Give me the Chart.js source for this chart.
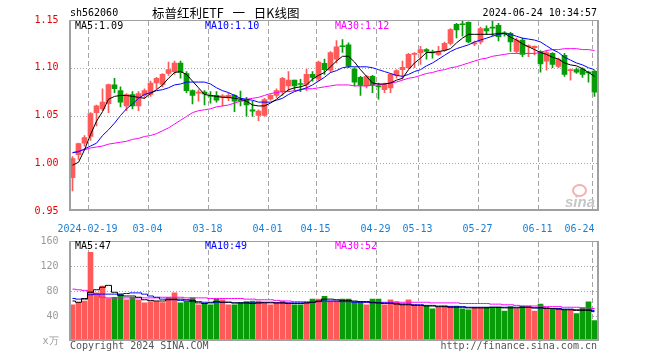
<!DOCTYPE html>
<html>
<head>
<meta charset="utf-8">
<script src="https://cdn.jsdelivr.net/npm/chart.js@4.4.1/dist/chart.umd.min.js"></script>
<style>
  html, body { margin: 0; padding: 0; background: #fff; }
  #wrap { position: relative; width: 660px; height: 360px; overflow: hidden;
          font-family: 'DejaVu Sans Mono', monospace; font-size: 10px; line-height: 10px; }
  canvas { position: absolute; left: 0; }
  .grid { pointer-events: none; }
  .t { position: absolute; white-space: pre; }
</style>
</head>
<body>
<div id="wrap">
  <canvas id="kChart" width="660" height="232" style="top:0"></canvas>
  <canvas id="volChart" width="660" height="128" style="top:232px"></canvas>
  <canvas id="kGrid" class="grid" width="660" height="232" style="top:0"></canvas>
  <canvas id="volGrid" class="grid" width="660" height="128" style="top:232px"></canvas>

  <div class="t" style="left:70px;top:8px;color:#000">sh562060</div>
  <div class="t" style="left:152px;top:6px;font-family:'Noto Sans CJK SC';font-size:12.5px;line-height:13px;word-spacing:6px;color:#000">标普红利ETF 一 日K线图</div>
  <div class="t" style="right:63px;top:8px;color:#000">2024-06-24 10:34:57</div>

  <div class="t" id="lg5" style="left:75px;top:21px;color:#000"></div>
  <div class="t" id="lg10" style="left:205px;top:21px;color:#0000ff"></div>
  <div class="t" id="lg30" style="left:335px;top:21px;color:#ff00ff"></div>

  <div class="t" id="vlg5" style="left:75px;top:241px;color:#000"></div>
  <div class="t" id="vlg10" style="left:205px;top:241px;color:#0000ff"></div>
  <div class="t" id="vlg30" style="left:335px;top:241px;color:#ff00ff"></div>

  <div style="position:absolute;left:572px;top:184px;width:11px;height:9px;border:2px solid #f4b0b0;border-radius:50%"></div>
  <div class="t" style="left:565px;top:194px;font:italic bold 15px 'Liberation Sans';line-height:15px;color:#c6c6c6">sina</div>

  <div class="t" style="left:70px;top:341px;color:#555">Copyright 2024 SINA.COM</div>
  <div class="t" style="right:63px;top:341px;color:#555">http://finance.sina.com.cn</div>
</div>

<script>
const dates = [
  '2024-02-06','2024-02-07','2024-02-08','2024-02-19','2024-02-20','2024-02-21','2024-02-22','2024-02-23','2024-02-26','2024-02-27','2024-02-28','2024-02-29',
  '2024-03-01','2024-03-04','2024-03-05','2024-03-06','2024-03-07','2024-03-08','2024-03-11','2024-03-12','2024-03-13','2024-03-14','2024-03-15',
  '2024-03-18','2024-03-19','2024-03-20','2024-03-21','2024-03-22','2024-03-25','2024-03-26','2024-03-27','2024-03-28','2024-03-29',
  '2024-04-01','2024-04-02','2024-04-03','2024-04-08','2024-04-09','2024-04-10','2024-04-11','2024-04-12','2024-04-15','2024-04-16','2024-04-17',
  '2024-04-18','2024-04-19','2024-04-22','2024-04-23','2024-04-24','2024-04-25','2024-04-26','2024-04-29','2024-04-30',
  '2024-05-06','2024-05-07','2024-05-08','2024-05-09','2024-05-10','2024-05-13','2024-05-14','2024-05-15','2024-05-16','2024-05-17',
  '2024-05-20','2024-05-21','2024-05-22','2024-05-23','2024-05-24','2024-05-27','2024-05-28','2024-05-29','2024-05-30','2024-05-31',
  '2024-06-03','2024-06-04','2024-06-05','2024-06-06','2024-06-07','2024-06-11','2024-06-12','2024-06-13','2024-06-14',
  '2024-06-17','2024-06-18','2024-06-19','2024-06-20','2024-06-21','2024-06-24'
];
const tickDates = ['2024-02-19','2024-03-04','2024-03-18','2024-04-01','2024-04-15',
  '2024-04-29','2024-05-13','2024-05-27','2024-06-11','2024-06-24'];

const opens = [
  0.985, 1.009, 1.021, 1.028, 1.053, 1.057, 1.0625, 1.082, 1.076, 1.060,
  1.072, 1.060, 1.071, 1.072, 1.084, 1.0825, 1.094, 1.096, 1.105, 1.094,
  1.076, 1.0735, 1.0745, 1.071, 1.071, 1.0695, 1.0685, 1.071, 1.0655, 1.067,
  1.056, 1.050, 1.050, 1.067, 1.071, 1.075, 1.081, 1.087, 1.083, 1.0825,
  1.093, 1.088, 1.1045, 1.0975, 1.109, 1.1225, 1.124, 1.099, 1.090, 1.081,
  1.091, 1.081, 1.077, 1.079, 1.092, 1.098, 1.100, 1.114, 1.1155, 1.119,
  1.116, 1.114, 1.1185, 1.1255, 1.1455, 1.1455, 1.1475, 1.125, 1.127, 1.141,
  1.142, 1.1445, 1.136, 1.136, 1.117, 1.129, 1.122, 1.121, 1.117, 1.107,
  1.115, 1.1015, 1.113, 1.097, 1.098, 1.099, 1.095, 1.0965
];
const highs = [
  1.007, 1.021, 1.029, 1.053, 1.061, 1.078, 1.083, 1.089, 1.080, 1.073,
  1.075, 1.075, 1.078, 1.086, 1.090, 1.094, 1.106, 1.107, 1.107, 1.096,
  1.077, 1.077, 1.076, 1.075, 1.075, 1.072, 1.0735, 1.072, 1.0755, 1.069,
  1.065, 1.056, 1.068, 1.072, 1.078, 1.090, 1.096, 1.087, 1.088, 1.099,
  1.096, 1.107, 1.109, 1.117, 1.1285, 1.1296, 1.126, 1.100, 1.091, 1.092,
  1.092, 1.084, 1.084, 1.094, 1.098, 1.107, 1.115, 1.116, 1.1225, 1.120,
  1.1185, 1.1225, 1.127, 1.141, 1.1465, 1.1487, 1.148, 1.128, 1.1425, 1.144,
  1.1487, 1.1465, 1.138, 1.137, 1.131, 1.131, 1.124, 1.123, 1.118, 1.118,
  1.116, 1.110, 1.115, 1.099, 1.100, 1.100, 1.0965, 1.097
];
const lows = [
  0.971, 1.004, 1.018, 1.024, 1.039, 1.055, 1.053, 1.074, 1.059, 1.055,
  1.057, 1.055, 1.068, 1.070, 1.078, 1.080, 1.092, 1.093, 1.089, 1.074,
  1.062, 1.065, 1.061, 1.063, 1.064, 1.060, 1.0655, 1.054, 1.060, 1.049,
  1.049, 1.0447, 1.049, 1.066, 1.069, 1.071, 1.075, 1.076, 1.075, 1.076,
  1.086, 1.086, 1.093, 1.095, 1.105, 1.116, 1.100, 1.081, 1.071, 1.079,
  1.074, 1.067, 1.074, 1.074, 1.089, 1.088, 1.099, 1.100, 1.1035, 1.109,
  1.110, 1.113, 1.117, 1.124, 1.1313, 1.133, 1.126, 1.123, 1.125, 1.135,
  1.1337, 1.128, 1.133, 1.117, 1.1155, 1.1115, 1.1115, 1.1135, 1.0955, 1.0975,
  1.100, 1.100, 1.091, 1.087, 1.094, 1.090, 1.085, 1.070
];
const closes = [
  1.005, 1.0205, 1.027, 1.052, 1.060, 1.064, 1.0824, 1.078, 1.064, 1.072,
  1.060, 1.073, 1.076, 1.084, 1.089, 1.093, 1.098, 1.105, 1.095, 1.076,
  1.071, 1.074, 1.0725, 1.070, 1.066, 1.0705, 1.071, 1.065, 1.065, 1.061,
  1.0545, 1.0545, 1.0667, 1.071, 1.076, 1.089, 1.087, 1.081, 1.0825, 1.093,
  1.090, 1.106, 1.098, 1.116, 1.122, 1.122, 1.1016, 1.085, 1.0815, 1.091,
  1.0815, 1.080, 1.0825, 1.093, 1.097, 1.1005, 1.114, 1.115, 1.119, 1.117,
  1.1155, 1.117, 1.1255, 1.140, 1.1395, 1.145, 1.127, 1.1255, 1.141, 1.1385,
  1.1415, 1.1325, 1.1355, 1.127, 1.129, 1.114, 1.1225, 1.1225, 1.104, 1.116,
  1.1035, 1.1085, 1.093, 1.0975, 1.0955, 1.093, 1.0945, 1.0745
];

// moving averages as printed on the chart
const ma5 = [
  0.998, 1.001, 1.014, 1.030, 1.044, 1.054, 1.067, 1.070, 1.071, 1.071,
  1.070, 1.069, 1.068, 1.073, 1.077, 1.082, 1.089, 1.095, 1.096, 1.093,
  1.086, 1.079, 1.072, 1.071, 1.070, 1.069, 1.069, 1.068, 1.067, 1.065,
  1.061, 1.060, 1.060, 1.063, 1.067, 1.072, 1.077, 1.079, 1.080, 1.082,
  1.088, 1.092, 1.095, 1.101, 1.107, 1.112, 1.112, 1.106, 1.098, 1.091,
  1.084, 1.083, 1.083, 1.084, 1.087, 1.089, 1.098, 1.105, 1.110, 1.116,
  1.116, 1.117, 1.118, 1.120, 1.126, 1.131, 1.135, 1.135, 1.135, 1.135,
  1.135, 1.136, 1.136, 1.132, 1.129, 1.125, 1.122, 1.119, 1.116, 1.114,
  1.111, 1.109, 1.105, 1.103, 1.102, 1.099, 1.095, 1.091
];
const ma10 = [
  1.011, 1.012, 1.015, 1.018, 1.021, 1.029, 1.035, 1.042, 1.050, 1.057,
  1.062, 1.068, 1.072, 1.074, 1.076, 1.077, 1.079, 1.082, 1.083, 1.085,
  1.085, 1.085, 1.085, 1.083, 1.079, 1.076, 1.074, 1.071, 1.068, 1.067,
  1.066, 1.064, 1.064, 1.064, 1.066, 1.068, 1.072, 1.075, 1.077, 1.079,
  1.082, 1.086, 1.090, 1.095, 1.097, 1.100, 1.101, 1.101, 1.101, 1.101,
  1.100, 1.098, 1.096, 1.094, 1.092, 1.091, 1.093, 1.096, 1.098, 1.102,
  1.105, 1.109, 1.113, 1.117, 1.120, 1.122, 1.124, 1.127, 1.129, 1.131,
  1.133, 1.135, 1.136, 1.135, 1.133, 1.131, 1.130, 1.129, 1.127, 1.123,
  1.119, 1.116, 1.111, 1.108, 1.105, 1.103, 1.100, 1.098
];
const ma30 = [
  1.011, 1.013, 1.014, 1.016, 1.017, 1.018, 1.020, 1.021, 1.022, 1.023,
  1.025, 1.026, 1.028, 1.029, 1.031, 1.034, 1.037, 1.041, 1.045, 1.049,
  1.053, 1.055, 1.056, 1.057, 1.059, 1.060, 1.061, 1.063, 1.065, 1.067,
  1.068, 1.069, 1.071, 1.073, 1.074, 1.075, 1.075, 1.076, 1.077, 1.078,
  1.078, 1.079, 1.080, 1.081, 1.082, 1.082, 1.082, 1.081, 1.081, 1.081,
  1.082, 1.082, 1.083, 1.084, 1.085, 1.087, 1.089, 1.090, 1.092, 1.094,
  1.095, 1.097, 1.098, 1.100, 1.101, 1.103, 1.105, 1.107, 1.109, 1.110,
  1.112, 1.113, 1.114, 1.115, 1.115, 1.115, 1.115, 1.115, 1.116, 1.118,
  1.119, 1.119, 1.120, 1.120, 1.120, 1.119, 1.119, 1.118
];

// volume, in 万
const vols = [
  58, 62, 64, 142, 77, 88, 68, 70, 75, 66,
  70, 66, 61, 63, 63, 61.5, 70, 77, 61, 63,
  69, 58, 60, 58, 67, 66, 58, 58, 61, 63,
  64, 64, 61, 58, 61, 64, 61, 58, 58, 61,
  67, 67, 71.5, 64, 64, 67, 67, 62, 62, 58,
  67, 67, 58, 66, 63, 60, 66, 58, 56, 56,
  51.5, 53.7, 56, 56, 56, 51.5, 50, 53.7, 53.7, 53.7,
  53.7, 53.7, 48, 55, 52, 56, 56, 48, 59, 51.5,
  51.5, 51.5, 50, 50, 43.7, 53, 62.6, 32.6
];
const vma5 = [
  64, 62, 68, 78, 82, 86, 89, 78, 73, 72,
  72, 70, 66, 65, 64, 64, 66, 67, 67, 66,
  65, 61, 60, 61, 63, 62, 62, 61, 61, 61,
  60, 61, 62, 62, 61, 61, 60, 60, 60, 61,
  62, 64, 67, 67, 66, 65, 65, 64, 63, 63,
  62, 61, 60, 60, 59, 58, 58, 57, 57, 56,
  56, 55, 55, 54, 54, 54, 53, 53, 53, 53,
  54, 54, 53, 53, 53, 54, 54, 53, 53, 52,
  52, 51, 50, 50, 49, 49, 49, 47
];
const vma10 = [
  68, 67, 67, 74, 75, 75, 75, 75, 75, 76,
  77, 77, 75, 72, 70, 67, 67, 66, 65, 64,
  63, 63, 62, 62, 62, 62, 62, 61, 61, 61,
  61, 61, 61, 61, 61, 61, 61, 61, 61, 61,
  62, 63, 64, 64, 64, 63, 63, 62, 62, 62,
  61, 61, 61, 61, 60, 59, 59, 58, 58, 57,
  57, 56, 56, 55, 55, 55, 54, 54, 54, 54,
  54, 54, 54, 54, 54, 54, 54, 53, 53, 53,
  52, 52, 51, 51, 50, 50, 50, 49
];
const vma30 = [
  83, 82, 81, 79, 75, 70, 69, 69, 69, 69,
  69, 69, 69, 69, 69, 70, 70, 70, 70, 69,
  69, 69, 69, 68, 68, 68, 68, 68, 68, 67,
  67, 66, 66, 66, 65, 64, 64, 63, 63, 63,
  63, 63, 63, 63, 63, 63, 63, 63, 63, 62,
  62, 62, 62, 62, 62, 62, 62, 62, 62, 62,
  61, 61, 61, 61, 61, 60, 60, 60, 60, 60,
  59, 59, 58, 58, 57, 56, 56, 56, 56, 55,
  55, 55, 54, 54, 54, 53, 53, 52
];

const RED = '#ff5a5a';
const GREEN = '#089c08';
const GRID = '#a6a6a6';
const MONO = 'DejaVu Sans Mono';

const last = (arr) => arr[arr.length - 1];
document.getElementById('lg5').textContent = 'MA5:' + last(ma5).toFixed(2);
document.getElementById('lg10').textContent = 'MA10:' + last(ma10).toFixed(2);
document.getElementById('lg30').textContent = 'MA30:' + last(ma30).toFixed(2);
document.getElementById('vlg5').textContent = 'MA5:' + Math.round(last(vma5));
document.getElementById('vlg10').textContent = 'MA10:' + Math.round(last(vma10));
document.getElementById('vlg30').textContent = 'MA30:' + Math.round(last(vma30));

const tickSet = new Set(tickDates.map((d) => dates.indexOf(d)));
const colors = closes.map((c, i) => (c >= opens[i] ? RED : GREEN));

const tickLabel = (i) => {
    const d = dates[i];
    if (!tickSet.has(i)) return '';
    if (d === tickDates[0]) return d;
    if (d === last(tickDates)) return d.slice(5) + '    ';
    return d.slice(5);
};

// gray frame round the plot
const framePlugin = {
    id: 'frame',
    afterDraw(chart) {
        const { ctx, chartArea: a } = chart;
        const l = Math.round(a.left), r = Math.round(a.right);
        const t = Math.round(a.top), b = Math.round(a.bottom);
        ctx.save();
        ctx.fillStyle = '#a0a0a0';
        ctx.fillRect(l - 1, t, 2, b - t);
        ctx.fillRect(r - 1, t, 2, b - t);
        ctx.fillRect(l - 1, t, r - l + 1, 1);
        ctx.fillRect(l - 1, b - 2, r - l + 1, 2);
        ctx.restore();
    },
};

// dotted value lines and dashed date lines on a layer above the chart,
// only where the chart below is still empty, so they look as if under the bars
const drawGrid = (chart, layerId) => {
    try {
        const g = document.getElementById(layerId).getContext('2d');
        const W = chart.canvas.width, H = chart.canvas.height;
        const px = chart.ctx.getImageData(0, 0, W, H).data;
        const free = (x, y) => {
            const k = (y * W + x) * 4;
            return px[k + 3] < 40 || (px[k] > 240 && px[k + 1] > 240 && px[k + 2] > 240);
        };
        const a = chart.chartArea;
        const l = Math.round(a.left), r = Math.round(a.right);
        const t = Math.round(a.top), b = Math.round(a.bottom);
        const xs = chart.scales.x, ys = chart.scales.y;
        g.fillStyle = GRID;
        ys.ticks.forEach((tk) => {
            const py = Math.round(ys.getPixelForValue(tk.value));
            if (py < t + 2 || py > b - 3) return;
            for (let x = l + 1; x < r - 1; x += 3) if (free(x, py)) g.fillRect(x, py, 1, 1);
        });
        const step = xs.getPixelForValue(1) - xs.getPixelForValue(0);
        tickSet.forEach((i) => {
            const x = Math.round(xs.getPixelForValue(i) - step / 2);
            for (let y = t + 1; y < b - 2; y++) {
                if ((y - t - 1) % 8 < 5 && free(x, y)) g.fillRect(x, y, 1, 1);
            }
        });
    } catch (e) {
        // leave the chart without grid rather than break it
    }
};

const lineSet = (data, color, order, stepped) => ({
    type: 'line',
    data: data,
    borderColor: color,
    borderWidth: 1,
    pointRadius: 0,
    tension: 0,
    fill: false,
    stepped: stepped || false,
    order: order,
});

Chart.defaults.font.family = MONO;
Chart.defaults.font.size = 10;

const kChart = new Chart(document.getElementById('kChart'), {
    type: 'bar',
    data: {
        labels: dates,
        datasets: [
            lineSet(ma5, '#000000', 0),
            lineSet(ma10, '#0000ff', 1),
            lineSet(ma30, '#ff00ff', 2),
            {
                data: dates.map((d, i) => [Math.min(opens[i], closes[i]), Math.max(opens[i], closes[i])]),
                backgroundColor: colors,
                barThickness: 5,
                minBarLength: 1,
                grouped: false,
                order: 3,
            },
            {
                data: dates.map((d, i) => [lows[i], highs[i]]),
                backgroundColor: colors,
                barThickness: 1,
                grouped: false,
                order: 4,
            },
        ],
    },
    options: {
        responsive: false,
        animation: false,
        layout: { padding: { top: 20, right: 62.5, left: 0, bottom: 0 } },
        plugins: { legend: { display: false }, tooltip: { enabled: false } },
        scales: {
            x: {
                offset: true,
                grid: { display: false },
                border: { display: false },
                ticks: {
                    autoSkip: false, maxRotation: 0, minRotation: 0,
                    padding: 4, labelOffset: -3, color: '#1a7fd4',
                    callback: (v, i) => tickLabel(i),
                },
                afterFit: (s) => { s.height = 21; },
            },
            y: {
                min: 0.95, max: 1.15,
                grid: { display: false },
                border: { display: false },
                ticks: { stepSize: 0.05, padding: 3, color: '#e60000', callback: (v) => v.toFixed(2) },
                afterFit: (s) => { s.width = 69.5; },
            },
        },
    },
    plugins: [framePlugin],
});

const volChart = new Chart(document.getElementById('volChart'), {
    type: 'bar',
    data: {
        labels: dates,
        datasets: [
            lineSet(vma5, '#000000', 0, 'middle'),
            lineSet(vma10, '#0000ff', 1, 'middle'),
            lineSet(vma30, '#ff00ff', 2, 'middle'),
            { data: vols, backgroundColor: colors, barThickness: 5, order: 3 },
        ],
    },
    options: {
        responsive: false,
        animation: false,
        layout: { padding: { top: 8, right: 62.5, left: 0, bottom: 19 } },
        plugins: { legend: { display: false }, tooltip: { enabled: false } },
        scales: {
            x: {
                offset: true,
                grid: { display: false },
                border: { display: false },
                ticks: { display: false, autoSkip: false },
                afterFit: (s) => { s.height = 0; },
            },
            y: {
                min: 0, max: 160,
                grid: { display: false },
                border: { display: false },
                ticks: { stepSize: 40, padding: 3, color: '#999999', callback: (v) => (v === 0 ? 'x万' : v) },
                afterFit: (s) => { s.width = 69.5; },
            },
        },
    },
    plugins: [framePlugin],
});

drawGrid(kChart, 'kGrid');
drawGrid(volChart, 'volGrid');
</script>
</body>
</html>
